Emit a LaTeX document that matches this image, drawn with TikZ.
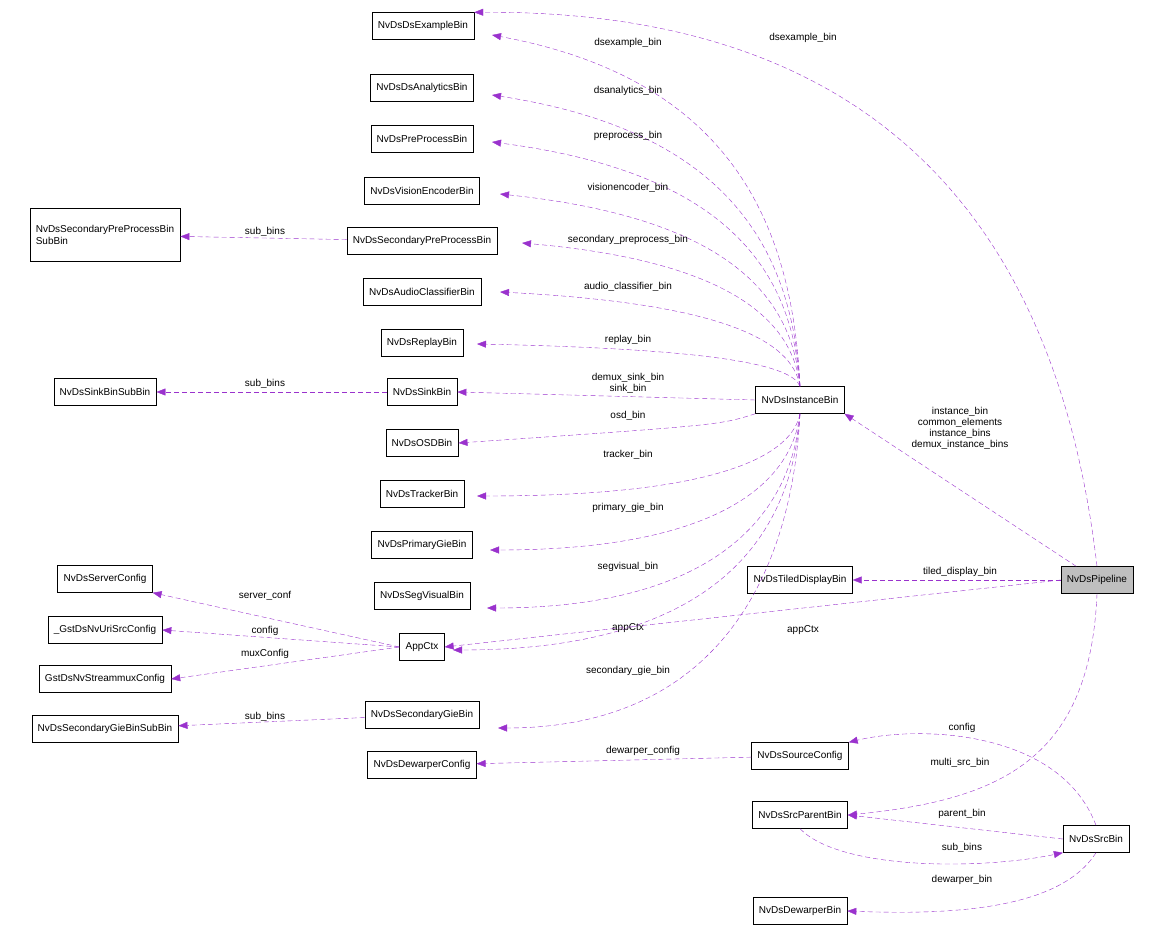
\documentclass[tikz,border=0pt]{standalone}
\usepackage{fontspec}
\setmainfont{Liberation Sans}
\usetikzlibrary{arrows.meta,positioning,calc}
\definecolor{dep}{HTML}{9A32CD}
\tikzset{
  cls/.style={draw,thin,fill=white,inner xsep=6pt,minimum height=27pt,font=\fontsize{10}{12}\selectfont},
  lbl/.style={font=\fontsize{10}{11}\selectfont,align=center,inner sep=1pt},
  uses/.style={draw=dep,dashed,dash pattern=on 5pt off 3pt,-{Triangle[length=9pt,width=7pt]},thin}
}
\begin{document}
\begin{tikzpicture}[x=1pt,y=-1pt]
  \useasboundingbox (0,0) rectangle (1152,928);
  % classes
  \node[cls] (ex) at (423,26) {NvDsDsExampleBin};
  \node[cls] (an) at (422,88) {NvDsDsAnalyticsBin};
  \node[cls] (pp) at (422,139) {NvDsPreProcessBin};
  \node[cls] (ve) at (422,191) {NvDsVisionEncoderBin};
  \node[cls] (spp) at (422,241) {NvDsSecondaryPreProcessBin};
  \node[cls,align=left,minimum height=53pt] (sppsub) at (105,235) {NvDsSecondaryPreProcessBin\\SubBin};
  \node[cls] (ac) at (422,292) {NvDsAudioClassifierBin};
  \node[cls] (rp) at (422,343) {NvDsReplayBin};
  \node[cls] (sinksub) at (105,392) {NvDsSinkBinSubBin};
  \node[cls] (sink) at (422,392) {NvDsSinkBin};
  \node[cls] (osd) at (422,443) {NvDsOSDBin};
  \node[cls] (trk) at (422,494) {NvDsTrackerBin};
  \node[cls] (pg) at (422,545) {NvDsPrimaryGieBin};
  \node[cls] (sv) at (422,596) {NvDsSegVisualBin};
  \node[cls] (srv) at (105,579) {NvDsServerConfig};
  \node[cls] (uri) at (105,630) {\_GstDsNvUriSrcConfig};
  \node[cls] (mux) at (105,679) {GstDsNvStreammuxConfig};
  \node[cls] (app) at (422,647) {AppCtx};
  \node[cls] (sgsub) at (105,729) {NvDsSecondaryGieBinSubBin};
  \node[cls] (sg) at (422,715) {NvDsSecondaryGieBin};
  \node[cls] (dwc) at (422,765) {NvDsDewarperConfig};
  \node[cls] (ib) at (800,400) {NvDsInstanceBin};
  \node[cls] (td) at (800,580) {NvDsTiledDisplayBin};
  \node[cls,fill=black!25] (pl) at (1097,580) {NvDsPipeline};
  \node[cls] (sc) at (800,756) {NvDsSourceConfig};
  \node[cls] (spb) at (800,815) {NvDsSrcParentBin};
  \node[cls] (sb) at (1096,839) {NvDsSrcBin};
  \node[cls] (dwb) at (800,911) {NvDsDewarperBin};

  % instance bin members above
  \foreach \t/\x/\y/\l/\ly in {ex/492/35/dsexample\_bin/43, an/492/95/dsanalytics\_bin/91,
      pp/492/142/preprocess\_bin/136, ve/500/194/visionencoder\_bin/188,
      spp/522/243/secondary\_preprocess\_bin/240, ac/500/292/audio\_classifier\_bin/287,
      rp/477/344/replay\_bin/340}{
    \pgfmathsetmacro\my{(387+\y)/2}
    \pgfmathsetmacro\ny{\y+(387-\y)*0.12}
    \draw[uses] (ib.north) .. controls (792,\my) and (720,\ny) .. (\x,\y);
    \node[lbl] (l-\t) at (628,\ly) {\l};
  }
  \draw[uses] (ib.west) -- (sink.east);
  \node[lbl] (l-sink) at (628,383) {demux\_sink\_bin\\sink\_bin};
  \draw[uses] (ib.south west) .. controls (720,425) .. (osd.east);
  \node[lbl] (l-osd) at (628,416) {osd\_bin};
  % instance bin members below
  \foreach \t/\x/\y/\l/\ly in {trk/477/496/tracker\_bin/455, pg/490/550/primary\_gie\_bin/508,
      sv/487/608/segvisual\_bin/567, app/453/650/appCtx/628, sg/498/728/secondary\_gie\_bin/671}{
    \pgfmathsetmacro\my{(414+\y)/2}
    \draw[uses] (ib.south) .. controls (792,\my) and (720,\y) .. (\x,\y);
    \node[lbl] (l-\t) at (628,\ly) {\l};
  }

  % left side
  \draw[uses] (spp) -- (sppsub);
  \node[lbl] (l-sppsub) at (265,232) {sub\_bins};
  \draw[uses] (sink) -- (sinksub);
  \node[lbl] (l-sinksub) at (265,384) {sub\_bins};
  \draw[uses] (app.west) -- (srv.south east);
  \node[lbl] (l-srv) at (265,596) {server\_conf};
  \draw[uses] (app.west) -- (uri.east);
  \node[lbl] (l-uri) at (265,631) {config};
  \draw[uses] (app.west) -- (mux.east);
  \node[lbl] (l-mux) at (265,654) {muxConfig};
  \draw[uses] (sg) -- (sgsub);
  \node[lbl] (l-sgsub) at (265,717) {sub\_bins};

  % pipeline
  \draw[uses] (pl.north) .. controls (1060,250) and (900,10) .. (ex.north east);
  \node[lbl] (l-plex) at (803,38) {dsexample\_bin};
  \draw[uses] (pl) -- (ib.south east);
  \node[lbl,align=center] (l-plib) at (960,428) {instance\_bin\\common\_elements\\instance\_bins\\demux\_instance\_bins};
  \draw[uses] (pl) -- (td);
  \node[lbl] (l-pltd) at (960,572) {tiled\_display\_bin};
  \draw[uses] (pl.west) -- (app.east);
  \node[lbl] (l-plapp) at (803,630) {appCtx};
  \draw[uses] (pl.south) .. controls (1090,760) and (1000,800) .. (spb.east);
  \node[lbl] (l-plspb) at (960,763) {multi\_src\_bin};

  % sources
  \draw[uses] (sc) -- (dwc);
  \node[lbl] (l-dwc) at (643,751) {dewarper\_config};
  \draw[uses] (sb.north) .. controls (1060,730) and (920,725) .. (sc.north east);
  \node[lbl] (l-sc) at (962,728) {config};
  \draw[uses] (sb.west) -- (spb.east);
  \node[lbl] (l-spb) at (962,814) {parent\_bin};
  \draw[uses] (spb.south) .. controls (840,870) and (980,870) .. (sb.south west);
  \node[lbl] (l-sbsub) at (962,848) {sub\_bins};
  \draw[uses] (sb.south) .. controls (1060,910) and (950,915) .. (dwb.east);
  \node[lbl] (l-dwb) at (962,880) {dewarper\_bin};
\end{tikzpicture}
\end{document}
